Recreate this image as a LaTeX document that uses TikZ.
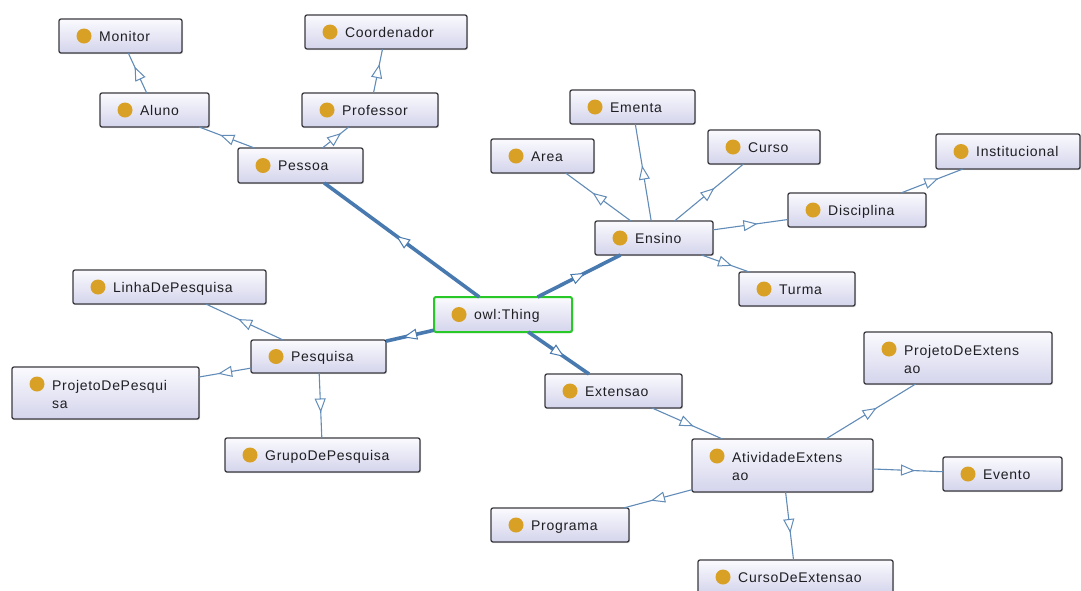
\documentclass[tikz,border=0pt]{standalone}
\usepackage{fontspec}
\setmainfont{Liberation Sans}[LetterSpace=5.0]
\usetikzlibrary{arrows.meta,decorations.markings,shadows}

\definecolor{edgeblue}{RGB}{98,140,184}
\definecolor{thickblue}{RGB}{72,122,176}
\definecolor{boxborder}{RGB}{58,58,64}
\definecolor{boxtop}{RGB}{250,250,254}
\definecolor{boxbottom}{RGB}{212,212,236}
\definecolor{dotgold}{RGB}{216,160,36}
\definecolor{thinggreen}{RGB}{40,200,40}
\definecolor{labelgray}{RGB}{30,30,34}

\tikzset{
  clsbox/.style={draw=boxborder, line width=1.3pt, rounded corners=2pt,
    top color=boxtop, bottom color=boxbottom, inner sep=0pt, outer sep=0pt,
    drop shadow={shadow xshift=1pt, shadow yshift=-1.2pt, opacity=0.25}},
  rootbox/.style={draw=thinggreen, line width=2pt},
  golddot/.style={circle, fill=dotgold, minimum size=15pt, inner sep=0pt},
  clslabel/.style={inner sep=0pt, text=labelgray, font=\fontsize{14}{16}\selectfont},
  subarrow/.style={decoration={markings,
      mark=at position 0.5 with {\pgftransformxshift{7pt}%
        \arrow{Triangle[length=14pt, width=11pt, fill=white, color=#1, line width=1pt]}}},
    postaction={decorate}},
  thinedge/.style={draw=edgeblue, line width=1.1pt, subarrow=edgeblue},
  thickedge/.style={draw=thickblue, line width=3.6pt, subarrow=thickblue},
}

% one-line class box: [extra style], name, left, top, right, bottom, label
\newcommand\owlcls[7][]{%
  \node[clsbox, #1, minimum width={(#5)-(#3)}, minimum height={(#6)-(#4)}]
    (#2) at ({((#3)+(#5))/2},{((#4)+(#6))/2}) {};
  \node[golddot] at ({(#3)+25},{((#4)+(#6))/2}) {};
  \node[clslabel, anchor=base west] at ({(#3)+40},{((#4)+(#6))/2+5}) {#7};
}
% two-line class box: name, left, top, right, bottom, first line, second line
\newcommand\owlclstwo[7]{%
  \node[clsbox, minimum width={(#4)-(#2)}, minimum height={(#5)-(#3)}]
    (#1) at ({((#2)+(#4))/2},{((#3)+(#5))/2}) {};
  \node[golddot] at ({(#2)+25},{(#3)+17}) {};
  \node[clslabel, anchor=base west] at ({(#2)+40},{(#3)+23}) {#6};
  \node[clslabel, anchor=base west] at ({(#2)+40},{(#3)+41}) {#7};
}

\begin{document}
\begin{tikzpicture}[x=1pt, y=-1pt]
\fill[white] (0,0) rectangle (1081,590);
\useasboundingbox (0,0) rectangle (1081,590);
\clip (0,0) rectangle (1081,590);

% ---- class boxes ----
\owlcls{monitor}{59}{19}{182}{53}{Monitor}
\owlcls{coord}{305}{15}{467}{49}{Coordenador}
\owlcls{aluno}{100}{93}{209}{127}{Aluno}
\owlcls{professor}{302}{93}{438}{127}{Professor}
\owlcls{pessoa}{238}{148}{363}{183}{Pessoa}

\owlcls{ementa}{570}{90}{695}{124}{Ementa}
\owlcls{area}{491}{139}{594}{173}{Area}
\owlcls{curso}{708}{130}{820}{164}{Curso}
\owlcls{institucional}{936}{134}{1080}{169}{Institucional}
\owlcls{disciplina}{788}{193}{926}{227}{Disciplina}
\owlcls{ensino}{595}{221}{713}{255}{Ensino}
\owlcls{turma}{739}{272}{855}{306}{Turma}

\owlcls[rootbox]{thing}{434}{297}{572}{332}{owl:Thing}

\owlcls{linha}{73}{270}{266}{304}{LinhaDePesquisa}
\owlcls{pesquisa}{251}{340}{386}{373}{Pesquisa}
\owlclstwo{projpesq}{12}{367}{199}{419}{ProjetoDePesqui}{sa}
\owlcls{grupo}{225}{438}{420}{472}{GrupoDePesquisa}

\owlcls{extensao}{545}{374}{682}{408}{Extensao}
\owlclstwo{projext}{864}{332}{1052}{384}{ProjetoDeExtens}{ao}
\owlclstwo{atividade}{692}{439}{873}{492}{AtividadeExtens}{ao}
\owlcls{evento}{943}{457}{1062}{491}{Evento}
\owlcls{programa}{491}{508}{629}{542}{Programa}
\owlcls{cursoext}{698}{560}{893}{594}{CursoDeExtensao}

% ---- subclass links, arrow pointing to the subclass ----
\draw[thickedge] (thing) -- (pessoa);
\draw[thickedge] (thing) -- (ensino);
\draw[thickedge] (thing) -- (pesquisa);
\draw[thickedge] (thing) -- (extensao);

\draw[thinedge] (pessoa) -- (aluno);
\draw[thinedge] (pessoa) -- (professor);
\draw[thinedge] (aluno) -- (monitor);
\draw[thinedge] (professor) -- (coord);

\draw[thinedge] (ensino) -- (area);
\draw[thinedge] (ensino) -- (ementa);
\draw[thinedge] (ensino) -- (curso);
\draw[thinedge] (ensino) -- (disciplina);
\draw[thinedge] (ensino) -- (turma);
\draw[thinedge] (disciplina) -- (institucional);

\draw[thinedge] (pesquisa) -- (linha);
\draw[thinedge] (pesquisa) -- (projpesq);
\draw[thinedge] (pesquisa) -- (grupo);

\draw[thinedge] (extensao) -- (atividade);
\draw[thinedge] (atividade) -- (projext);
\draw[thinedge] (atividade) -- (evento);
\draw[thinedge] (atividade) -- (programa);
\draw[thinedge] (atividade) -- (cursoext);
\end{tikzpicture}
\end{document}
